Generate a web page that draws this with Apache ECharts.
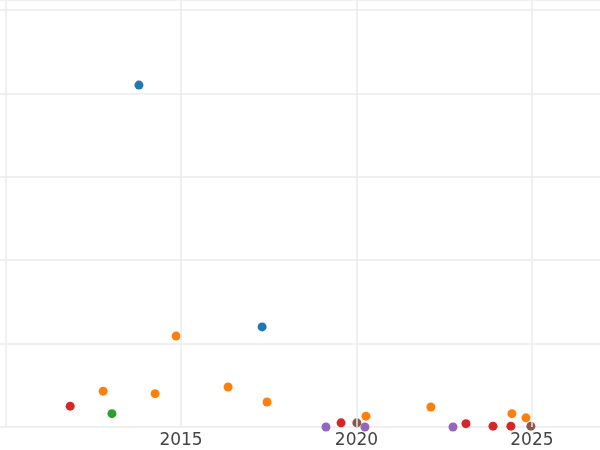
<!DOCTYPE html>
<html style="height: 100%">
<head>
<meta charset="utf-8">
<script src="https://cdn.jsdelivr.net/npm/echarts@6/dist/echarts.min.js"></script>
</head>
<body style="height: 100%; margin: 0">
<div id="container" style="width: 600px; height: 450px"></div>
<script type="text/javascript">
var blueData = [[2013.80, 4.10], [2017.31, 1.20]];
var orangeData = [[2014.86, 1.09], [2012.78, 0.43], [2014.26, 0.40], [2016.34, 0.48], [2017.45, 0.30],
  [2020.27, 0.13], [2022.12, 0.24], [2024.43, 0.16], [2024.83, 0.11]];
var greenData = [[2013.03, 0.16]];
var redData = [[2011.84, 0.25], [2019.56, 0.05], [2023.12, 0.04], [2023.89, 0.01], [2024.40, 0.01]];
var purpleData = [[2019.13, 0], [2020.24, 0], [2022.75, 0]];
var brownData = [[2020.01, 0.05], [2024.97, 0.01]];
var xLabels = [2015, 2020, 2025];
var xLines = [2010, 2015, 2020, 2025];

var myChart = echarts.init(document.getElementById('container'));

function sc(name, data, color) {
    return { name: name, type: 'scatter', data: data, symbolSize: 9, clip: true,
        itemStyle: { color: color, opacity: 1 } };
}

var option = {
    animation: false,
    grid: { left: 0, right: 0, top: 0, bottom: 23 },
    xAxis: {
        type: 'value', min: 2009.84, max: 2026.94,
        axisLine: { show: false }, axisTick: { show: false, customValues: xLines },
        axisLabel: { customValues: xLabels, color: '#444', fontSize: 17, fontFamily: 'DejaVu Sans', margin: 5,
            formatter: function (v) { return String(Math.round(v)); } },
        splitLine: { show: false }
    },
    yAxis: {
        type: 'value', min: 0, max: 5.12, interval: 1,
        axisLine: { show: false }, axisTick: { show: false }, axisLabel: { show: false },
        splitLine: { lineStyle: { color: '#ebebeb', width: 1.5 } }
    },
    series: [
        sc('a', blueData, '#1f77b4'),
        sc('b', orangeData, '#ff7f0e'),
        sc('c', greenData, '#2ca02c'),
        sc('d', redData, '#d62728'),
        sc('e', purpleData, '#9467bd'),
        sc('f', brownData, '#8c564b'),
        { type: 'scatter', data: [], silent: true,
          markLine: { symbol: 'none', silent: true, label: { show: false },
            lineStyle: { color: '#ebebeb', width: 1.5, type: 'solid' },
            data: xLines.map(function (v) { return { xAxis: v }; }) } }
    ]
};
myChart.setOption(option);
</script>
</body>
</html>
